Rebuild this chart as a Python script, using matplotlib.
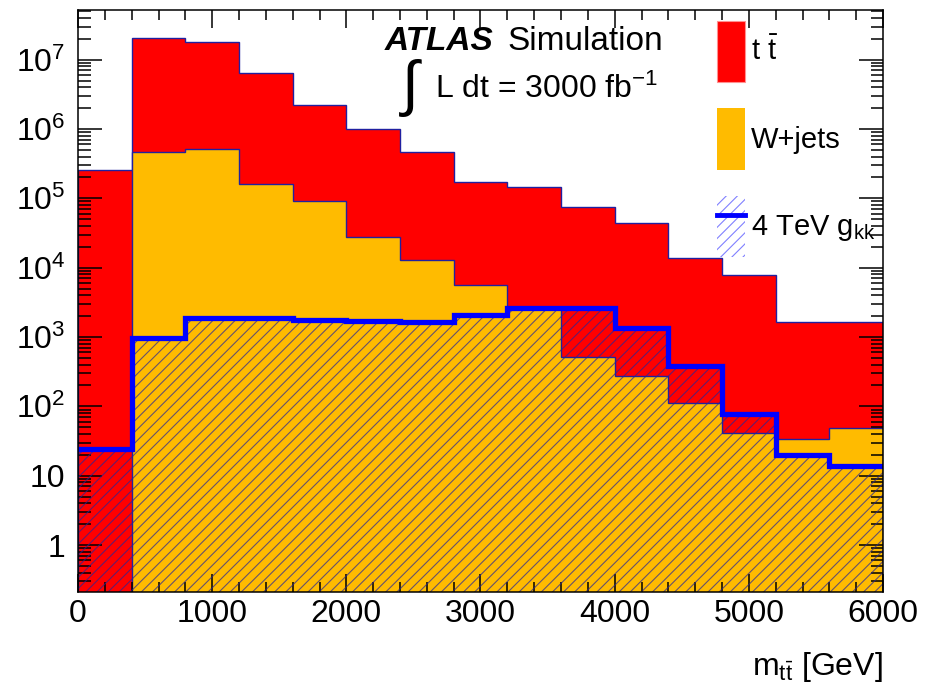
import matplotlib
matplotlib.use('Agg')
import matplotlib.pyplot as plt
import numpy as np
from matplotlib.patches import Patch
from matplotlib.lines import Line2D
from matplotlib.ticker import MultipleLocator, LogLocator, FuncFormatter, NullFormatter

plt.rcParams['font.family'] = ['Liberation Sans', 'DejaVu Sans']
plt.rcParams['mathtext.fontset'] = 'custom'
plt.rcParams['mathtext.rm'] = 'Liberation Sans'
plt.rcParams['mathtext.it'] = 'Liberation Sans:italic'
plt.rcParams['mathtext.bf'] = 'Liberation Sans:bold'
plt.rcParams['hatch.linewidth'] = 0.8

# m_tt bins (GeV)
edges = np.arange(0, 6001, 400)
# events per bin
ttbar = [2.6e5, 2.0e7, 1.75e7, 6.2e6, 2.1e6, 9.7e5, 4.5e5, 1.64e5, 1.42e5,
         7.35e4, 4.37e4, 1.35e4, 7.9e3, 1.63e3, 1.61e3]
wjets = [0, 4.7e5, 5.2e5, 1.6e5, 9.1e4, 2.8e4, 1.3e4, 5.7e3, 2.6e3,
         520, 275, 112, 41, 34, 48]
gkk = [24, 960, 1900, 1850, 1750, 1700, 1650, 2050, 2650, 2650, 1370,
       380, 77, 20, 14]

labels = [r'$\mathregular{t\ \bar{t}}$', 'W+jets', r'4 TeV $\mathregular{g_{kk}}$']

red = '#ff0000'
orange = '#ffbb00'
navy = '#2020a0'

fig = plt.figure(figsize=(9.27, 6.94), dpi=100)
ax = fig.add_axes([78 / 927, 1 - 592 / 694, 805 / 927, 582 / 694])

floor = 1e-3
total = np.array(ttbar) + np.array(wjets)
w_plot = np.maximum(np.array(wjets, dtype=float), floor)

ax.stairs(total, edges, fill=True, baseline=floor, facecolor=red,
          edgecolor=navy, lw=1, zorder=1)
ax.stairs(w_plot, edges, fill=True, baseline=floor, facecolor=orange,
          edgecolor=navy, lw=1, zorder=2)
ax.stairs(gkk, edges, fill=True, baseline=floor, facecolor='none',
          edgecolor=(0.15, 0.15, 0.6, 0.7), hatch='///', lw=0, zorder=3)
ax.stairs(gkk, edges, baseline=None, color='#0000ff', lw=3.8, zorder=4)

ax.set_yscale('log')
ax.set_xlim(0, 6000)
ax.set_ylim(0.21, 5.2e7)

ax.xaxis.set_major_locator(MultipleLocator(1000))
ax.xaxis.set_minor_locator(MultipleLocator(200))
ax.yaxis.set_major_locator(LogLocator(base=10, numticks=20))
ax.yaxis.set_minor_locator(LogLocator(base=10, subs=np.arange(2, 10), numticks=20))
ax.yaxis.set_minor_formatter(NullFormatter())


def ylab(v, pos):
    n = int(round(np.log10(v)))
    if n == 0:
        return '1'
    if n == 1:
        return '10'
    return r'$\mathregular{10^{%d}}$' % n


ax.yaxis.set_major_formatter(FuncFormatter(ylab))

ax.tick_params(which='both', direction='in', top=True, right=True, width=1.1)
ax.tick_params(axis='x', which='major', length=13, labelsize=23, pad=5)
ax.tick_params(axis='x', which='minor', length=7)
ax.tick_params(axis='y', which='major', length=17, labelsize=23, pad=9)
ax.tick_params(axis='y', which='minor', length=9)
ax.set_axisbelow(False)
for s in ax.spines.values():
    s.set_linewidth(1.1)
    s.set_zorder(10)

ax.text(1.0, -0.143, r'$\mathregular{m_{t\bar{t}}}$ [GeV]', fontsize=23,
        ha='right', va='baseline', transform=ax.transAxes)

ax.text(0.381, 0.931, 'ATLAS', fontsize=24, weight='bold', style='italic',
        transform=ax.transAxes, va='baseline')
ax.text(0.534, 0.931, 'Simulation', fontsize=24, transform=ax.transAxes,
        va='baseline')
ax.text(0.402, 0.838, '\u222b', fontsize=44, transform=ax.transAxes,
        va='baseline')
ax.text(0.4435, 0.849, r'L dt = 3000 fb$^{\mathregular{-1}}$', fontsize=23,
        transform=ax.transAxes, va='baseline')

handles = [Patch(facecolor=red, edgecolor='#ff9090', lw=0.8),
           Patch(facecolor=orange, edgecolor='none'),
           (Patch(facecolor='none', edgecolor='#8080ff', hatch='///', lw=0),
            Line2D([], [], color='#0000ff', lw=3.5))]
ax.legend(handles, labels, loc='upper left',
          bbox_to_anchor=((717 - 78) / 805, (592 - 21) / 582),
          frameon=False, fontsize=21, handlelength=0.97, handleheight=2.85,
          labelspacing=0.9, handletextpad=0.2, borderpad=0, borderaxespad=0)

fig.savefig('out.png', dpi=100)
